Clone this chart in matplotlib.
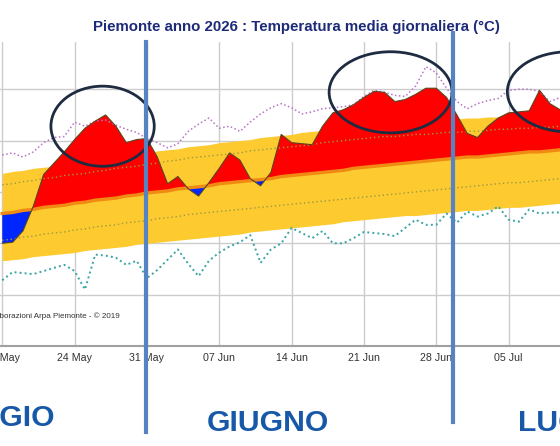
import numpy as np
import matplotlib
matplotlib.use("Agg")
import matplotlib.pyplot as plt
import matplotlib.dates as mdates
import matplotlib.font_manager as fm
from matplotlib.patches import Ellipse
from matplotlib.lines import Line2D
from matplotlib.transforms import blended_transform_factory

# daily values 17 May -> 10 Jul 2026 (degC)
days = np.arange(np.datetime64("2026-05-17"), np.datetime64("2026-07-11"))

observed = [10.0, 10.1, 11.2, 13.6, 16.7, 17.8, 18.9,
            20.1, 21.2, 21.9, 22.5, 21.4, 19.8, 20.1,
            20.2, 18.4, 15.8, 16.5, 15.3, 14.6, 15.9,
            17.3, 18.8, 18.1, 16.3, 15.6, 16.9, 20.6,
            19.8, 19.7, 19.6, 21.4, 22.7, 23.0, 23.5,
            24.2, 24.8, 24.7, 23.8, 24.0, 24.5, 25.1,
            25.1, 24.2, 22.5, 20.7, 20.3, 21.4, 22.2,
            22.7, 22.8, 22.9, 24.9, 23.6, 23.0]

clim_mean = [12.9, 13.0, 13.2, 13.3, 13.5, 13.6, 13.7,
             13.9, 14.0, 14.2, 14.3, 14.4, 14.6, 14.7,
             14.9, 15.0, 15.1, 15.3, 15.4, 15.5, 15.6,
             15.8, 15.9, 16.0, 16.1, 16.2, 16.3, 16.5,
             16.6, 16.7, 16.8, 16.9, 17.0, 17.1, 17.3,
             17.4, 17.5, 17.6, 17.7, 17.8, 17.9, 18.0,
             18.1, 18.2, 18.3, 18.4, 18.4, 18.5, 18.6,
             18.7, 18.8, 18.9, 18.9, 19.0, 19.1]

band_high = [16.8, 17.0, 17.1, 17.3, 17.4, 17.5, 17.7,
             17.8, 18.0, 18.1, 18.3, 18.4, 18.5, 18.7,
             18.8, 19.0, 19.1, 19.2, 19.4, 19.5, 19.6,
             19.8, 19.9, 20.0, 20.1, 20.3, 20.4, 20.5,
             20.6, 20.8, 20.9, 21.0, 21.1, 21.2, 21.3,
             21.4, 21.5, 21.6, 21.7, 21.8, 21.9, 21.9,
             22.0, 22.1, 22.1, 22.2, 22.2, 22.3, 22.3,
             22.3, 22.4, 22.4, 22.4, 22.5, 22.5]

band_low = [8.3, 8.4, 8.5, 8.7, 8.8, 8.9, 9.0,
            9.1, 9.3, 9.4, 9.5, 9.6, 9.7, 9.9,
            10.0, 10.1, 10.2, 10.3, 10.4, 10.5, 10.6,
            10.7, 10.8, 10.9, 11.1, 11.2, 11.3, 11.4,
            11.5, 11.6, 11.7, 11.8, 11.9, 12.1, 12.2,
            12.3, 12.4, 12.5, 12.6, 12.7, 12.7, 12.8,
            12.9, 13.0, 13.1, 13.2, 13.2, 13.3, 13.4,
            13.5, 13.5, 13.6, 13.7, 13.8, 13.9]

perc_high = [15.7, 15.8, 16.0, 16.1, 16.3, 16.4, 16.6,
             16.7, 16.8, 17.0, 17.1, 17.3, 17.4, 17.5,
             17.7, 17.8, 18.0, 18.1, 18.3, 18.4, 18.5,
             18.6, 18.7, 18.8, 19.0, 19.1, 19.2, 19.3,
             19.4, 19.5, 19.6, 19.8, 19.9, 20.0, 20.1,
             20.2, 20.3, 20.4, 20.4, 20.5, 20.6, 20.6,
             20.7, 20.8, 20.8, 20.9, 20.9, 21.0, 21.1,
             21.1, 21.2, 21.2, 21.3, 21.3, 21.4]

perc_low = [10.3, 10.4, 10.6, 10.7, 10.9, 11.0, 11.1,
            11.3, 11.4, 11.6, 11.7, 11.8, 12.0, 12.1,
            12.2, 12.4, 12.5, 12.6, 12.8, 12.9, 13.0,
            13.1, 13.2, 13.3, 13.4, 13.5, 13.6, 13.7,
            13.8, 13.9, 14.0, 14.1, 14.2, 14.3, 14.4,
            14.5, 14.6, 14.7, 14.8, 14.9, 15.0, 15.1,
            15.2, 15.3, 15.4, 15.5, 15.6, 15.7, 15.8,
            15.9, 15.9, 16.0, 16.1, 16.2, 16.3]

record_max = [18.6, 18.8, 18.4, 18.9, 19.8, 20.3, 20.4,
              21.8, 21.4, 21.9, 22.0, 21.5, 21.1, 20.8,
              20.2, 19.8, 19.3, 19.7, 20.9, 21.6, 22.2,
              21.2, 21.4, 20.9, 21.8, 22.6, 23.2, 23.6,
              23.2, 22.6, 22.8, 23.1, 23.2, 23.3, 23.5,
              24.3, 24.9, 24.7, 24.4, 24.3, 25.3, 27.2,
              26.6, 25.1, 23.8, 23.1, 23.6, 23.9, 24.1,
              24.9, 25.0, 25.0, 24.8, 23.8, 24.2]

record_min = [6.4, 7.2, 7.1, 7.0, 7.3, 7.6, 7.9,
              7.3, 5.5, 8.9, 8.8, 8.6, 7.9, 8.3,
              6.6, 7.4, 8.4, 9.4, 8.0, 6.8, 8.3,
              9.1, 9.7, 10.1, 10.8, 8.1, 9.4, 10.0,
              11.5, 11.0, 10.5, 11.2, 10.0, 10.0, 10.5,
              11.1, 11.0, 10.9, 10.7, 11.5, 12.3, 11.8,
              11.8, 12.9, 12.0, 13.1, 12.6, 12.9, 13.6,
              12.3, 12.1, 13.3, 12.9, 13.0, 13.0]

# annotations drawn over the chart
month_names = ["MAGGIO", "GIUGNO", "LUGLIO"]
month_dates = ["2026-05-16", "2026-06-11 16:00", "2026-07-11 10:00"]
month_y = [0.045, 0.033, 0.033]
split_dates = ["2026-05-30 22:00", "2026-06-29 14:00"]
split_span = [(0.031, 0.906), (0.054, 0.926)]
circle_dates = ["2026-05-26 17:00", "2026-06-23 14:00", "2026-07-10 20:00"]
circle_temp = [21.4, 24.7, 24.75]
circle_w = [10.0, 11.9, 11.9]
circle_h = [7.8, 7.9, 7.8]


def to_num(s):
    return mdates.date2num(np.datetime64(s.replace(" ", "T")))


# a narrow face if there is one, otherwise plain Liberation Sans a bit smaller
narrow_reg = narrow_bold = None
for f in fm.fontManager.ttflist:
    fn = f.fname.replace("-", "").replace(" ", "")
    if "LiberationSansNarrow" in fn:
        if "Bold" in fn and "Italic" not in fn:
            narrow_bold = f.fname
        elif "Regular" in fn:
            narrow_reg = f.fname
if narrow_reg and narrow_bold:
    tick_fp = fm.FontProperties(fname=narrow_reg, size=9.2)
    note_fp = fm.FontProperties(fname=narrow_reg, size=7.0)
    title_fp = fm.FontProperties(fname=narrow_bold, size=12.8)
else:
    tick_fp = fm.FontProperties(family=["Liberation Sans", "DejaVu Sans"], size=7.7)
    note_fp = fm.FontProperties(family=["Liberation Sans", "DejaVu Sans"], size=5.8)
    title_fp = fm.FontProperties(family=["Liberation Sans", "DejaVu Sans"],
                                 weight="bold", size=10.8)

x = mdates.date2num(days)
obs = np.array(observed)
mean = np.array(clim_mean)

fig = plt.figure(figsize=(5.6, 4.46), dpi=100)
ax = fig.add_axes([0, 100 / 446, 1, 304 / 446])

ax.fill_between(x, band_low, band_high, color="#fdca30", lw=0, zorder=2)
ax.fill_between(x, obs, mean, where=obs >= mean, interpolate=True,
                color="#ff0000", lw=0, zorder=3)
ax.fill_between(x, obs, mean, where=obs <= mean, interpolate=True,
                color="#0026ff", lw=0, zorder=3)
ax.plot(x, perc_high, ls=(0, (1, 2)), color="#9c9a40", lw=1.0, zorder=4)
ax.plot(x, perc_low, ls=(0, (1, 2)), color="#9c9a40", lw=1.0, zorder=4)
ax.plot(x, mean, color="#f08a12", lw=2.4, zorder=5)
ax.plot(x, obs, color="#5a4520", lw=0.8, zorder=6)
ax.plot(x, record_max, ls=(0, (1, 1.6)), color="#b873c8", lw=1.1, zorder=4)
ax.plot(x, record_min, ls=(0, (1, 1.6)), color="#3aa3a3", lw=1.4, zorder=4)

x0 = x[0]
ax.set_xlim(x0 - 0.22, x0 + 53.98)
ax.set_ylim(0, 29.6)
ax.set_yticks(np.arange(0, 30, 5))
ax.set_xticks(x[::7])
ax.xaxis.set_major_formatter(mdates.DateFormatter("%d %b"))
ax.grid(True, color="#cccccc", lw=1.0, zorder=0)
ax.set_axisbelow(True)
for s in ["top", "left", "right"]:
    ax.spines[s].set_visible(False)
ax.spines["bottom"].set_color("#a0a0a0")
ax.spines["bottom"].set_linewidth(1.5)
ax.tick_params(axis="both", length=0, pad=5, labelcolor="#333333")
ax.tick_params(axis="y", labelleft=False)
for lab in ax.get_xticklabels():
    lab.set_fontproperties(tick_fp)

fig.text(0.529, 0.94, "Piemonte anno 2026 : Temperatura media giornaliera (°C)",
         ha="center", va="center", fontproperties=title_fp, color="#1c2a78")
fig.text(120 / 560, 1 - 316 / 446, "Elaborazioni Arpa Piemonte - © 2019",
         ha="right", va="center", fontproperties=note_fp, color="#333333")

for c, t, w, h in zip(circle_dates, circle_temp, circle_w, circle_h):
    ax.add_patch(Ellipse((to_num(c), t), w, h, fill=False, ec="#1e2b40", lw=2.0,
                         zorder=8, clip_on=False))

tr = blended_transform_factory(ax.transData, fig.transFigure)
for d, (y0, y1) in zip(split_dates, split_span):
    dx = to_num(d)
    fig.add_artist(Line2D([dx, dx], [y0, y1], transform=tr, color="#5683c2",
                          lw=3.0, zorder=9, clip_on=False))

for name, d, yy in zip(month_names, month_dates, month_y):
    fig.text(to_num(d), yy, name, transform=tr, ha="center", va="baseline",
             fontsize=21.7, fontweight="bold", color="#1758a8",
             family=["Liberation Sans", "DejaVu Sans"])

fig.savefig("out.png", dpi=100)
